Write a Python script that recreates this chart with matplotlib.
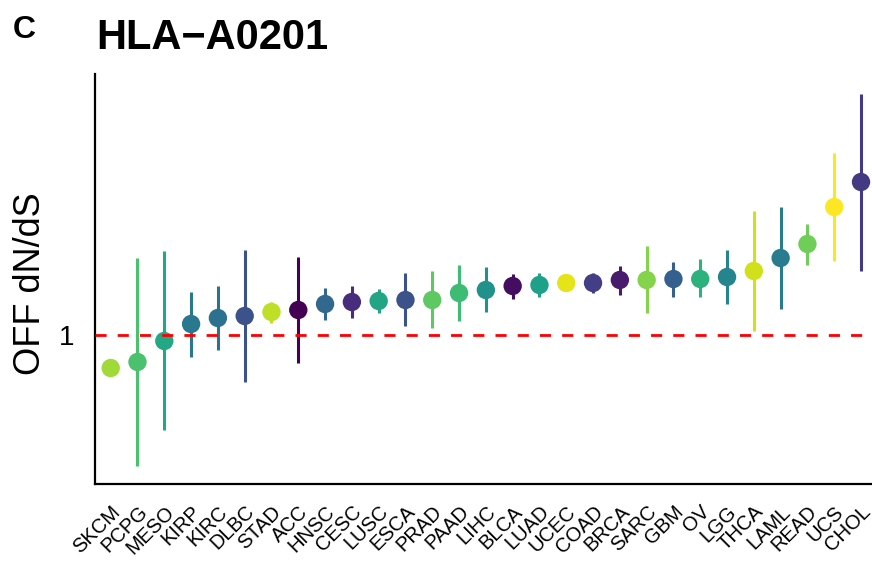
"""HLA-A0201 OFF dN/dS per cancer type, with confidence intervals."""

import matplotlib
matplotlib.use("Agg")
import matplotlib.pyplot as plt
import matplotlib.transforms as mtransforms

plt.rcParams["font.family"] = ["Liberation Sans", "DejaVu Sans"]

# ── Data ──
cancers = ["SKCM", "PCPG", "MESO", "KIRP", "KIRC", "DLBC", "STAD", "ACC",
           "HNSC", "CESC", "LUSC", "ESCA", "PRAD", "PAAD", "LIHC", "BLCA",
           "LUAD", "UCEC", "COAD", "BRCA", "SARC", "GBM", "OV", "LGG",
           "THCA", "LAML", "READ", "UCS", "CHOL"]
dnds = [0.967, 0.973, 0.994, 1.011, 1.017, 1.019, 1.023, 1.025,
        1.031, 1.033, 1.034, 1.035, 1.035, 1.042, 1.045, 1.049,
        1.050, 1.052, 1.052, 1.055, 1.055, 1.056, 1.056, 1.058,
        1.064, 1.077, 1.091, 1.128, 1.153]
ci_low = [0.961, 0.869, 0.905, 0.978, 0.985, 0.953, 1.012, 0.972,
          1.015, 1.017, 1.022, 1.009, 1.007, 1.014, 1.023, 1.036,
          1.038, 1.046, 1.042, 1.040, 1.022, 1.038, 1.038, 1.031,
          1.004, 1.026, 1.070, 1.074, 1.064]
ci_high = [0.973, 1.077, 1.084, 1.043, 1.049, 1.085, 1.033, 1.078,
           1.047, 1.049, 1.046, 1.062, 1.064, 1.070, 1.068, 1.061,
           1.062, 1.057, 1.062, 1.069, 1.089, 1.073, 1.076, 1.085,
           1.124, 1.128, 1.111, 1.182, 1.241]
# viridis shade per cancer type
point_colors = ["#a0da39", "#4ac16d", "#22a884", "#2a788e", "#2c728e",
                "#3b528b", "#bddf26", "#440154", "#31688e", "#472d7b",
                "#21a585", "#3b528b", "#5ec962", "#3dbc74", "#21918c",
                "#450d5f", "#1fa088", "#e5e419", "#433e85", "#481b6d",
                "#84d44b", "#355f8d", "#2db27d", "#25858e", "#d0e11c",
                "#287c8e", "#6ece58", "#fde725", "#443983"]

fig = plt.figure(figsize=(8.72, 5.63), dpi=100)
ax = fig.add_axes([95 / 872, 79 / 563, 777 / 872, 410 / 563])

x = list(range(len(cancers)))
ax.vlines(x, ci_low, ci_high, colors=point_colors, linewidth=2.2, zorder=2)
ax.scatter(x, dnds, s=175, c=point_colors, edgecolors="none", zorder=3)
ax.axhline(1, color="#FF0000", linewidth=2.0, dashes=(4, 4), zorder=4)

ax.set_xlim(-0.586, 28.41)
ax.set_ylim(0.851, 1.261)

ax.set_xticks(x)
ax.set_xticklabels(cancers, rotation=45, ha="right", va="top",
                   rotation_mode="anchor", fontsize=14.5)
# nudge the rotated labels a touch to the right of their ticks
shift = mtransforms.ScaledTranslation(0.02, 0, fig.dpi_scale_trans)
for lbl in ax.get_xticklabels():
    lbl.set_transform(lbl.get_transform() + shift)
ax.set_yticks([1])
ax.set_yticklabels(["1"], fontsize=20)
ax.tick_params(axis="both", length=0)
ax.tick_params(axis="y", pad=15)
ax.tick_params(axis="x", pad=13)

for side in ("top", "right"):
    ax.spines[side].set_visible(False)
for side in ("left", "bottom"):
    ax.spines[side].set_linewidth(1.6)
    ax.spines[side].set_color("black")

fig.text(30 / 872, 1 - 284 / 563, "OFF dN/dS", rotation=90,
         ha="center", va="center", fontsize=26)
fig.text(96 / 872, 1 - 49 / 563, "HLA\u2212A0201", ha="left",
         va="baseline", fontsize=30, fontweight="bold")
fig.text(13 / 872, 1 - 38 / 563, "C", ha="left", va="baseline",
         fontsize=23, fontweight="bold")

fig.savefig("out.png", dpi=100, facecolor="white")
plt.close(fig)
